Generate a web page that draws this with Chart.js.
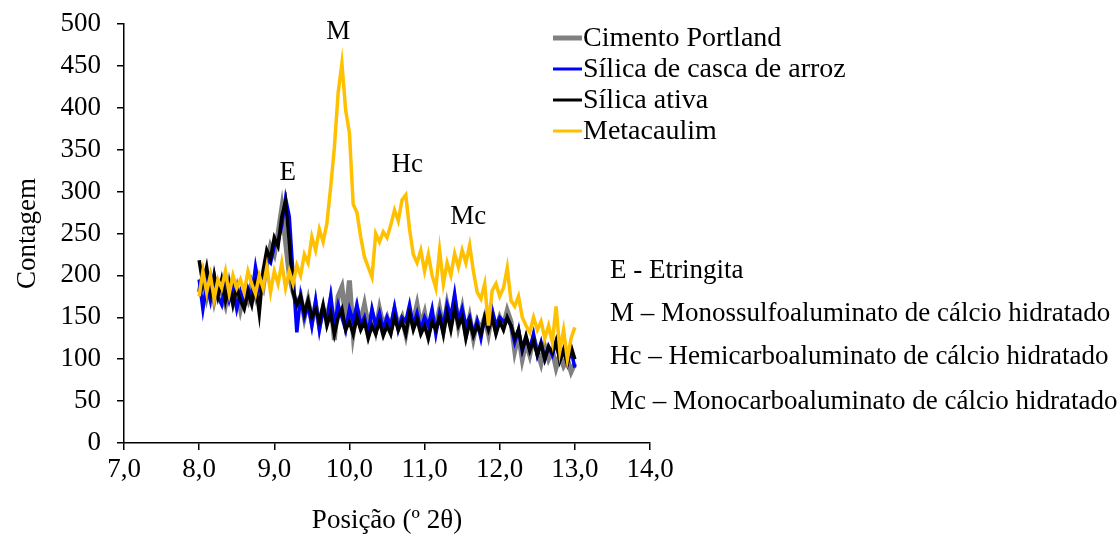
<!DOCTYPE html>
<html>
<head>
<meta charset="utf-8">
<script src="https://cdn.jsdelivr.net/npm/chart.js@4.4.1/dist/chart.umd.min.js"></script>
<style>
html,body{margin:0;padding:0;background:#fff;}
#wrap{width:1119px;height:535px;position:relative;}
</style>
</head>
<body>
<div id="wrap"><canvas id="c" width="1119" height="535"></canvas></div>
<script>
// 2θ positions (8.00 to 13.00, step 0.05)
const posicao = [];
for (let i = 0; i <= 100; i++) posicao.push(+(8 + i * 0.05).toFixed(2));

const seriesNames = ["Cimento Portland", "Sílica de casca de arroz", "Sílica ativa", "Metacaulim"];

const cimentoPortland = [
180,200,175,195,170,190,180,165,190,170,
185,160,180,170,190,175,195,185,215,235,
225,250,280,240,200,180,165,175,150,170,
145,165,140,160,150,170,123,175,186,150,
194,131,160,145,165,140,155,135,160,140,
150,135,158,140,150,130,155,145,165,140,
155,130,150,140,160,135,165,145,170,140,
160,130,150,125,145,135,150,130,155,135,
150,140,158,145,110,130,100,120,105,125,
110,95,115,100,110,90,105,92,100,85,
95];

const silicaCascaArroz = [
195,160,190,170,200,175,165,190,170,185,
160,180,165,185,175,210,185,200,220,215,
235,240,260,292,270,200,132,175,150,165,
140,170,135,160,145,175,140,165,150,135,
160,145,165,140,150,130,160,140,155,135,
150,140,162,135,150,145,165,140,155,135,
150,140,160,130,155,140,165,150,178,145,
160,140,150,130,145,125,150,140,158,140,
150,145,148,140,120,135,110,125,112,130,
105,120,100,115,105,120,100,112,95,110,
90];

const silicaAtiva = [
218,190,210,180,200,175,195,170,190,165,
185,170,160,180,165,190,155,205,230,220,
245,235,270,288,240,180,165,175,155,170,
150,160,145,165,140,155,130,150,160,135,
145,130,150,135,145,125,140,130,145,128,
140,130,150,135,145,130,155,135,148,130,
140,125,145,135,150,130,155,135,160,140,
150,125,145,128,140,130,150,135,150,130,
145,135,150,140,125,135,112,128,110,122,
105,118,100,115,108,122,98,110,95,115,
100];

const metacaulim = [
175,205,180,200,172,195,185,205,178,200,
185,195,180,205,190,178,200,185,210,180,
205,190,215,185,205,190,212,200,225,215,
246,230,255,240,262,305,353,418,453,397,
370,285,275,246,222,210,198,250,240,252,
245,260,278,265,290,296,255,225,215,230,
205,225,200,185,230,190,215,200,226,210,
230,215,236,205,180,172,190,140,182,190,
175,185,209,170,163,175,150,140,132,150,
135,145,125,140,120,163,110,135,100,125,
138];

const xTicks = [7,8,9,10,11,12,13,14];
const yTicks = [0,50,100,150,200,250,300,350,400,450,500];

const annotations = [
  {text: "M", x: 9.85, y: 490},
  {text: "E", x: 9.18, y: 322},
  {text: "Hc", x: 10.77, y: 332},
  {text: "Mc", x: 11.58, y: 270}
];
const notes = [
  "E - Etringita",
  "M – Monossulfoaluminato de cálcio hidratado",
  "Hc – Hemicarboaluminato de cálcio hidratado",
  "Mc – Monocarboaluminato de cálcio hidratado"
];

const colors = ["#808080", "#0000FF", "#000000", "#FFC000"];
const widths = [5, 3.5, 3.5, 3.5];
const allSeries = [cimentoPortland, silicaCascaArroz, silicaAtiva, metacaulim];
const drawOrder = [4, 3, 2, 1];

const FONT = "'Liberation Serif', 'Times New Roman', serif";

const datasets = allSeries.map((s, k) => ({
  label: seriesNames[k],
  data: s.map((v, i) => ({x: posicao[i], y: v})),
  borderColor: colors[k],
  backgroundColor: colors[k],
  borderWidth: widths[k],
  pointRadius: 0,
  tension: 0,
  fill: false,
  order: drawOrder[k]
}));

const extras = {
  id: 'extras',
  afterDraw(chart) {
    const ctx = chart.ctx;
    const xs = chart.scales.x, ys = chart.scales.y;
    ctx.save();
    ctx.fillStyle = '#000';
    // annotations
    ctx.font = "27px " + FONT;
    ctx.textAlign = 'center';
    ctx.textBaseline = 'middle';
    annotations.forEach(a => {
      ctx.fillText(a.text, xs.getPixelForValue(a.x), ys.getPixelForValue(a.y));
    });
    // legend
    const legY = [38, 69, 100, 131];
    ctx.font = "28px " + FONT;
    ctx.textAlign = 'left';
    seriesNames.forEach((n, k) => {
      ctx.strokeStyle = colors[k];
      ctx.lineWidth = k === 0 ? 5 : 3;
      ctx.beginPath();
      ctx.moveTo(553, legY[k]);
      ctx.lineTo(582, legY[k]);
      ctx.stroke();
      ctx.fillStyle = '#000';
      ctx.fillText(n, 583, legY[k] + 1);
    });
    // notes
    const noteY = [271, 314, 357, 402];
    ctx.font = "27px " + FONT;
    notes.forEach((n, k) => ctx.fillText(n, 610, noteY[k]));
    ctx.restore();
  }
};

new Chart(document.getElementById('c'), {
  type: 'line',
  data: {datasets},
  options: {
    responsive: false,
    animation: false,
    layout: {padding: {left: 0, top: 24, right: 469, bottom: 0}},
    plugins: {legend: {display: false}, tooltip: {enabled: false}},
    scales: {
      x: {
        type: 'linear',
        min: 7, max: 14,
        afterFit(s) { s.height = 92; s.paddingLeft = 0; s.paddingRight = 0; },
        afterBuildTicks(s) { s.ticks = xTicks.map(v => ({value: v})); },
        ticks: {
          color: '#000',
          font: {family: FONT, size: 27},
          padding: 4,
          maxRotation: 0,
          callback: v => v.toFixed(1).replace('.', ',')
        },
        grid: {drawOnChartArea: false, drawTicks: true, tickLength: 7, color: '#000', lineWidth: 1.5},
        border: {display: true, color: '#000', width: 1.5},
        title: {display: true, text: 'Posição (º 2θ)', color: '#000', font: {family: FONT, size: 27, lineHeight: 1.0}, padding: {top: 0, bottom: 1}}
      },
      y: {
        type: 'linear',
        min: 0, max: 500,
        afterFit(s) { s.width = 124; s.paddingTop = 0; s.paddingBottom = 0; },
        afterBuildTicks(s) { s.ticks = yTicks.map(v => ({value: v})); },
        ticks: {
          color: '#000',
          font: {family: FONT, size: 27},
          padding: 16
        },
        grid: {drawOnChartArea: false, drawTicks: true, tickLength: 7, color: '#000', lineWidth: 1.5},
        border: {display: true, color: '#000', width: 1.5},
        title: {display: true, text: 'Contagem', color: '#000', font: {family: FONT, size: 27, lineHeight: 1.0}, padding: {top: 14, bottom: 0}}
      }
    }
  },
  plugins: [extras]
});
</script>
</body>
</html>
